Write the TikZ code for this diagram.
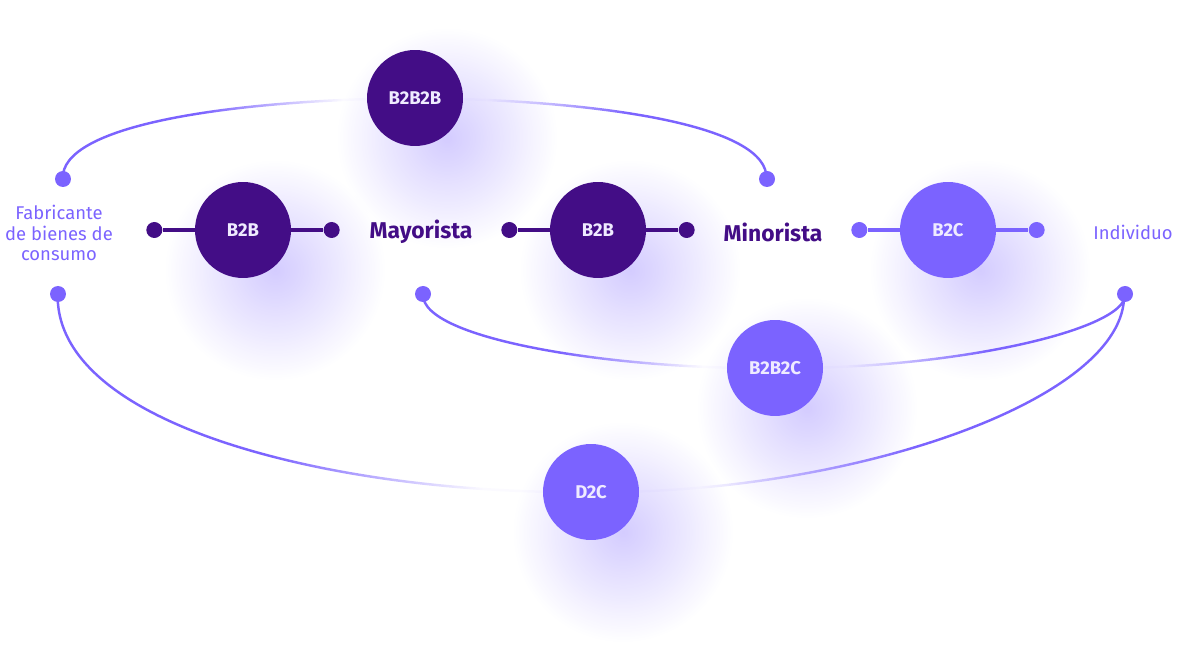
\documentclass[tikz,border=0pt]{standalone}
\usepackage{fontspec}
\setmainfont{Fira Sans}
\usepackage{xcolor}
\usetikzlibrary{positioning,fadings}

\definecolor{deep}{HTML}{430D86}
\definecolor{lav}{HTML}{7B63FF}
\definecolor{paper}{HTML}{EFEBFF}

\tikzfading[name=glowfade, inner color=transparent!0, outer color=transparent!100]
\begin{tikzfadingfrompicture}[name=midfade]
  \fill[transparent!0] (-50bp,-50bp) rectangle (-15bp,50bp);
  \shade[left color=transparent!0, right color=transparent!97] (-15bp,-50bp) rectangle (-5bp,50bp);
  \fill[transparent!97] (-5bp,-50bp) rectangle (5bp,50bp);
  \shade[left color=transparent!97, right color=transparent!0] (5bp,-50bp) rectangle (15bp,50bp);
  \fill[transparent!0] (15bp,-50bp) rectangle (50bp,50bp);
\end{tikzfadingfrompicture}

\pgfdeclarelayer{glowlayer}
\pgfdeclarelayer{arclayer}
\pgfsetlayers{glowlayer,arclayer,main}

\begin{document}
\begin{tikzpicture}[
  x=0.02cm, y=-0.02cm,
  hub/.style={circle, minimum size=1.92cm, inner sep=0pt, text=paper, font=\fontsize{10.5}{12}\selectfont\bfseries},
  darkhub/.style={hub, fill=deep},
  lighthub/.style={hub, fill=lav},
  pin/.style={circle, minimum size=0.32cm, inner sep=0pt, fill=#1},
  pin/.default=lav,
  party/.style={font=\fontsize{13}{15}\selectfont\bfseries, text=deep},
  enduser/.style={font=\fontsize{10.5}{11.5}\selectfont, text=lav, align=center},
  link/.style={line width=1.8pt, draw=#1},
  arc/.style={line width=1.4pt, draw=lav, path fading=midfade},
  glow/.style={fill=lav, fill opacity=0.33, path fading=glowfade},
  node distance=0.64cm
]
  \useasboundingbox (0,0) rectangle (1193,651);

  % channel circles
  \node[darkhub] (b2b2b) at (415,98) {B2B2B};
  \node[darkhub] (b2bA) at (243,230) {B2B};
  \node[darkhub] (b2bB) at (598,230) {B2B};
  \node[lighthub] (b2c) at (948,230) {B2C};
  \node[lighthub] (b2b2c) at (775,368) {B2B2C};
  \node[lighthub] (d2c) at (591,492) {D2C};

  % actors
  \node[enduser] (fab) at (59,233) {Fabricante\\de bienes de\\consumo};
  \node[party] (may) at (421,232) {Mayorista};
  \node[party] (min) at (773,232) {Minorista};
  \node[enduser] (ind) at (1133,232) {Individuo};

  % end points of the direct links
  \node[pin=deep, left=of b2bA] (b2bAl) {};
  \node[pin=deep, right=of b2bA] (b2bAr) {};
  \node[pin=deep, left=of b2bB] (b2bBl) {};
  \node[pin=deep, right=of b2bB] (b2bBr) {};
  \node[pin, left=of b2c] (b2cl) {};
  \node[pin, right=of b2c] (b2cr) {};

  % end points of the arcs
  \node[pin] (fabTop) at (63,179) {};
  \node[pin] (minTop) at (767,179) {};
  \node[pin] (fabBot) at (58,294) {};
  \node[pin] (mayBot) at (423,294) {};
  \node[pin] (indBot) at (1125,294) {};

  \begin{pgfonlayer}{glowlayer}
    \foreach \gx/\gy in {415/98, 243/230, 598/230, 948/230, 775/368, 591/492}
      \fill[glow] (\gx+32,\gy+40) circle (110);
  \end{pgfonlayer}

  \begin{pgfonlayer}{arclayer}
    \draw[link=deep] (b2bAl) -- (b2bAr);
    \draw[link=deep] (b2bBl) -- (b2bBr);
    \draw[link=lav] (b2cl) -- (b2cr);

    \draw[arc] (fabTop.center) .. controls (60,125) and (230,100) .. (b2b2b.center)
      .. controls (600,100) and (770,125) .. (minTop.center);
    \draw[arc] (mayBot.center) .. controls (420,340) and (620,370) .. (b2b2c.center)
      .. controls (950,370) and (1128,330) .. (indBot.center);
    \draw[arc] (fabBot.center) .. controls (55,430) and (350,495) .. (d2c.center)
      .. controls (850,495) and (1128,400) .. (indBot.center);
  \end{pgfonlayer}
\end{tikzpicture}
\end{document}
